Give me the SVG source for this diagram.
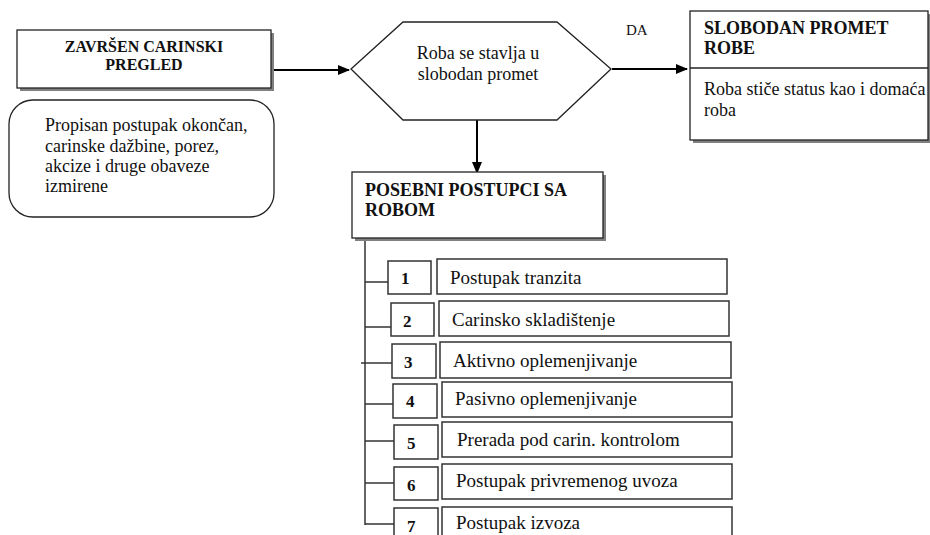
<svg xmlns="http://www.w3.org/2000/svg" width="930" height="535" viewBox="0 0 930 535">
<defs>
<marker id="ah" markerUnits="userSpaceOnUse" markerWidth="12" markerHeight="10" refX="11" refY="5" orient="auto">
<path d="M0,0 L12,5 L0,10 Z" fill="#000"/>
</marker>
<style>
.shadow{fill:#808080}
.box{fill:#fff;stroke:#222;stroke-width:1.3}
.ibox{fill:#fff;stroke:#333;stroke-width:1.5}
.t{font-family:"Liberation Serif","Times New Roman",serif;fill:#111}
.b{font-weight:bold}
.conn{stroke:#000;stroke-width:2;fill:none}
.thin{stroke:#333;stroke-width:1.5;fill:none}
</style>
</defs>
<rect width="930" height="535" fill="#fff"/>

<g id="connectors">
<line class="conn" x1="273" y1="70" x2="349" y2="70" marker-end="url(#ah)"/>
<line class="conn" x1="612" y1="69" x2="687" y2="69" marker-end="url(#ah)"/>
<line class="conn" x1="477" y1="120" x2="477" y2="173" marker-end="url(#ah)"/>
<text class="t" x="626" y="35" font-size="15">DA</text>
<line class="thin" x1="365" y1="239" x2="365" y2="525"/>
<line class="thin" x1="365" y1="282" x2="388" y2="282"/>
<line class="thin" x1="365" y1="327" x2="391" y2="327"/>
<line class="thin" x1="361" y1="363" x2="392" y2="363"/>
<line class="thin" x1="365" y1="404" x2="393" y2="404"/>
<line class="thin" x1="365" y1="441" x2="394" y2="441"/>
<line class="thin" x1="365" y1="483" x2="394" y2="483"/>
<line class="thin" x1="365" y1="524" x2="394" y2="524"/>
</g>

<g id="zavrsen">
<rect class="shadow" x="20" y="33" width="254" height="58"/>
<rect class="box" x="17" y="30" width="254" height="58"/>
<text class="t b" x="144" y="52" font-size="16" text-anchor="middle">ZAVRŠEN CARINSKI</text>
<text class="t b" x="144" y="70" font-size="16" text-anchor="middle">PREGLED</text>
</g>

<g id="propisan">
<rect class="box" x="9" y="100" width="265" height="117" rx="24"/>
<text class="t" font-size="18"><tspan x="45" y="131">Propisan postupak okončan,</tspan><tspan x="45" y="152">carinske dažbine, porez,</tspan><tspan x="45" y="172">akcize i druge obaveze</tspan><tspan x="45" y="192">izmirene</tspan></text>
</g>

<g id="odluka">
<polygon class="box" points="351,69 403,22 557,22 611,69 557,120 403,120"/>
<text class="t" x="478" y="59" font-size="18" text-anchor="middle">Roba se stavlja u</text>
<text class="t" x="478" y="80" font-size="18" text-anchor="middle">slobodan promet</text>
</g>

<g id="slobodan">
<rect class="shadow" x="693" y="14" width="238" height="129"/>
<rect class="box" x="690" y="11" width="238" height="129"/>
<line x1="690" y1="68" x2="928" y2="68" stroke="#222" stroke-width="1.3"/>
<text class="t b" x="704" y="34" font-size="18">SLOBODAN PROMET</text>
<text class="t b" x="704" y="54" font-size="18">ROBE</text>
<text class="t" x="704" y="95" font-size="18">Roba stiče status kao i domaća</text>
<text class="t" x="704" y="116" font-size="18">roba</text>
</g>

<g id="posebni">
<rect class="shadow" x="355" y="175" width="251" height="66"/>
<rect class="box" x="352" y="172" width="251" height="66"/>
<text class="t b" x="365" y="196" font-size="18">POSEBNI POSTUPCI SA</text>
<text class="t b" x="365" y="216" font-size="18">ROBOM</text>
</g>

<g id="item1">
<rect class="ibox" x="388" y="261" width="43" height="33"/>
<rect class="ibox" x="437" y="259" width="290" height="35"/>
<text class="t b" x="401" y="284" font-size="17">1</text>
<text class="t" x="450" y="284" font-size="19">Postupak tranzita</text>
</g>
<g id="item2">
<rect class="ibox" x="391" y="303" width="43" height="33"/>
<rect class="ibox" x="439" y="301" width="290" height="35"/>
<text class="t b" x="403" y="327" font-size="17">2</text>
<text class="t" x="452" y="326" font-size="19">Carinsko skladištenje</text>
</g>
<g id="item3">
<rect class="ibox" x="392" y="344" width="44" height="34"/>
<rect class="ibox" x="440" y="342" width="291" height="36"/>
<text class="t b" x="404" y="368" font-size="17">3</text>
<text class="t" x="453" y="367" font-size="19">Aktivno oplemenjivanje</text>
</g>
<g id="item4">
<rect class="ibox" x="393" y="384" width="44" height="34"/>
<rect class="ibox" x="442" y="382" width="290" height="35"/>
<text class="t b" x="406" y="407" font-size="17">4</text>
<text class="t" x="455" y="405" font-size="19">Pasivno oplemenjivanje</text>
</g>
<g id="item5">
<rect class="ibox" x="394" y="425" width="44" height="34"/>
<rect class="ibox" x="442" y="422" width="290" height="35"/>
<text class="t b" x="407" y="449" font-size="17">5</text>
<text class="t" x="457" y="446" font-size="19">Prerada pod carin. kontrolom</text>
</g>
<g id="item6">
<rect class="ibox" x="394" y="467" width="44" height="33"/>
<rect class="ibox" x="442" y="464" width="290" height="35"/>
<text class="t b" x="407" y="491" font-size="17">6</text>
<text class="t" x="456" y="487" font-size="19">Postupak privremenog uvoza</text>
</g>
<g id="item7">
<rect class="ibox" x="394" y="508" width="44" height="34"/>
<rect class="ibox" x="442" y="507" width="290" height="35"/>
<text class="t b" x="407" y="532" font-size="17">7</text>
<text class="t" x="456" y="529" font-size="19">Postupak izvoza</text>
</g>
</svg>
